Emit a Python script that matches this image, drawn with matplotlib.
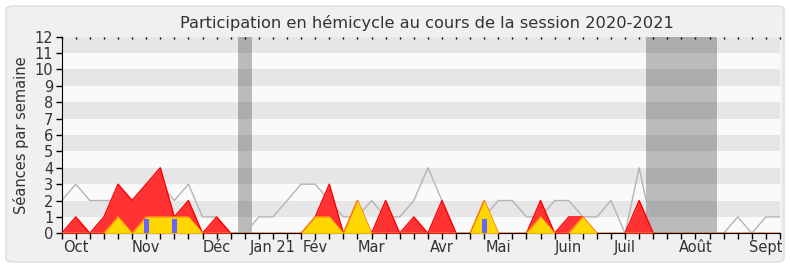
import numpy as np
import matplotlib.pyplot as plt
from matplotlib.patches import FancyBboxPatch

# one value per week, week 0 = end of Sept 2020, week 51 = Sept 2021
median = [2, 3, 2, 2, 2, 2, 3, 3, 2, 3, 1, 1, 0, 0, 1, 1, 2, 3, 3, 2,
          1, 1, 2, 1, 1, 2, 4, 2, 0, 0, 1, 2, 2, 1, 1, 2, 2, 1, 1, 2,
          0, 4, 0, 0, 0, 0, 0, 0, 1, 0, 1, 1]
presence = [0, 1, 0, 1, 3, 2, 3, 4, 1, 2, 0, 1, 0, 0, 0, 0, 0, 0, 1, 3,
            0, 2, 0, 2, 0, 1, 0, 2, 0, 0, 2, 0, 0, 0, 2, 0, 1, 1, 0, 0,
            0, 2, 0, 0, 0, 0, 0, 0, 0, 0, 0, 0]
interventions = [0, 0, 0, 0, 1, 0, 1, 1, 1, 1, 0, 0, 0, 0, 0, 0, 0, 0, 1, 1,
                 0, 2, 0, 0, 0, 0, 0, 0, 0, 0, 2, 0, 0, 0, 1, 0, 0, 1, 0, 0,
                 0, 0, 0, 0, 0, 0, 0, 0, 0, 0, 0, 0]
questions_weeks = [6, 8, 30]
questions_vals = [0.87, 0.87, 0.87]
holidays = [(12.5, 13.5), (41.5, 46.5)]
month_weeks = [1, 6, 11, 15, 18, 22, 27, 31, 36, 40, 45, 50]
month_labels = ['Oct', 'Nov', 'Déc', 'Jan 21', 'Fév', 'Mar', 'Avr', 'Mai',
                'Juin', 'Juil', 'Août', 'Sept']

weeks = np.arange(len(median))
txt = '#333333'

fig = plt.figure(figsize=(7.9, 2.67), dpi=100)
fig.patch.set_facecolor('white')
frame = FancyBboxPatch((6/790, 5/267), 778/790, 256/267,
                       boxstyle='round,pad=0,rounding_size=0.012',
                       transform=fig.transFigure, facecolor='#f0f0f0',
                       edgecolor='#dddddd', lw=1, zorder=-10)
fig.patches.append(frame)

ax = fig.add_axes([61.7/790, 1 - 233.3/267, 718.3/790, 196.6/267])
ax.set_facecolor('#fafafa')
for y0 in range(1, 12, 2):
    ax.axhspan(y0, y0 + 1, color='#e6e6e6', lw=0, zorder=0)
for a, b in holidays:
    ax.axvspan(a, b, color='black', alpha=0.25, lw=0, zorder=1)

ax.plot(weeks, median, color='#b4b4b4', lw=1, zorder=2)
ax.fill_between(weeks, presence, color='#ff3333', lw=0, zorder=3)
ax.plot(weeks, presence, color='#ff0000', lw=1, zorder=3)
ax.fill_between(weeks, interventions, color='#ffd700', lw=0, zorder=4)
ax.plot(weeks, interventions, color='#ffcc00', lw=1, alpha=0.6, zorder=4)
ax.bar(questions_weeks, questions_vals, width=0.35, color='#6666ff', zorder=5)

ax.set_xlim(0, 51)
ax.set_ylim(0, 12)
ax.set_yticks(range(13))
ax.set_xticks(weeks, minor=True)
ax.set_xticks(month_weeks)
ax.set_xticklabels(month_labels)
ax.tick_params(axis='x', which='both', length=4, color='black', width=1,
               labelsize=10.5, labelcolor=txt, pad=1)
ax.tick_params(axis='y', length=4, color='black', width=1,
               labelsize=10.5, labelcolor=txt, pad=2)

# small dots along the top edge
top = ax.secondary_xaxis('top')
top.set_xticks(weeks)
top.tick_params(direction='in', length=1.5, width=1, color='black',
                labeltop=False)
top.spines['top'].set_visible(False)

for s in ['top', 'right']:
    ax.spines[s].set_visible(False)
ax.spines['left'].set_color('black')
ax.spines['bottom'].set_color('black')
ax.set_ylabel('Séances par semaine', fontsize=10.5, color=txt, labelpad=4)
ax.set_title('Participation en hémicycle au cours de la session 2020-2021',
             fontsize=11.7, color=txt, pad=6, x=0.508)

fig.savefig('out.png', dpi=100, facecolor=fig.get_facecolor())
